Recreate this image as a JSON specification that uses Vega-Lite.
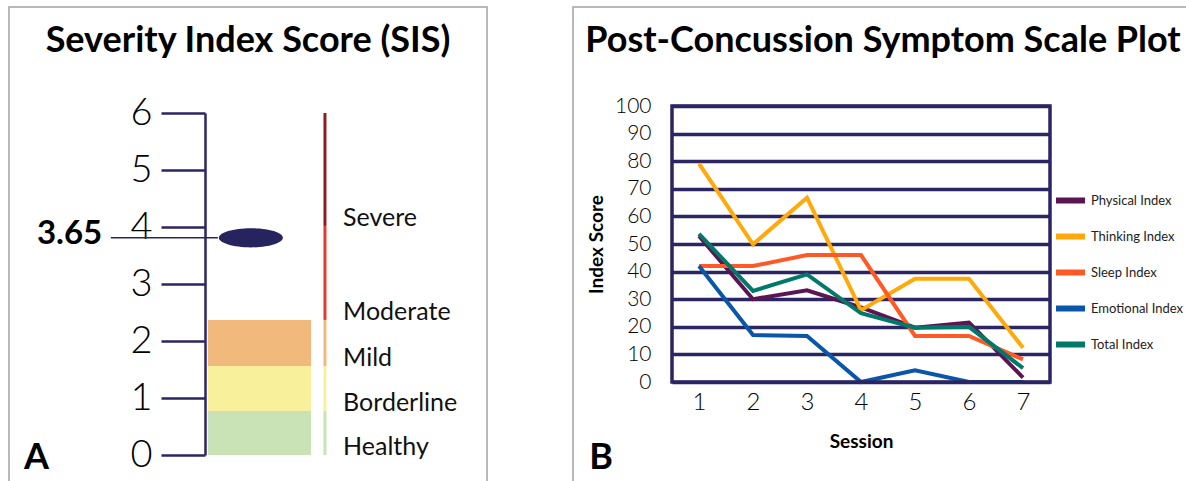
{
  "$schema": "https://vega.github.io/schema/vega-lite/v6.json",
  "padding": {"left": 8, "top": 6, "right": 0, "bottom": 0},
  "spacing": 84,
  "resolve": {"scale": {"color": "independent"}, "legend": {"color": "independent"}},
  "config": {
    "font": "Lato",
    "view": {"stroke": "#a3a3a3", "strokeWidth": 1.5}
  },
  "hconcat": [
    {
      "width": 478,
      "height": 476,
      "title": {"text": "Severity Index Score (SIS)", "font": "Lato", "fontSize": 36, "fontWeight": "bold", "color": "#000000", "anchor": "middle", "frame": "group", "offset": -81, "baseline": "alphabetic"},
      "data": {"values": [
        {"level": "Healthy", "lo": 0, "hi": 0.77},
        {"level": "Borderline", "lo": 0.77, "hi": 1.56},
        {"level": "Mild", "lo": 1.56, "hi": 2.37},
        {"level": "Moderate", "lo": 2.37, "hi": 4.02},
        {"level": "Severe", "lo": 4.02, "hi": 6}
      ]},
      "layer": [
        {
          "transform": [{"filter": "datum.hi < 3"}],
          "mark": {"type": "rect"},
          "encoding": {
            "x": {"datum": 41.6, "type": "quantitative", "scale": {"domain": [0, 100], "range": [0, 478], "nice": false, "zero": false}, "axis": null},
            "x2": {"datum": 63.2},
            "y": {"field": "lo", "type": "quantitative",
              "scale": {"domain": [0, 6], "range": [448, 106], "nice": false, "zero": false},
              "axis": {"orient": "left", "offset": -196, "values": [0, 1, 2, 3, 4, 5, 6], "format": "d", "title": null, "grid": false,
                "domainColor": "#2b2563", "domainWidth": 2.5, "tickColor": "#2b2563", "tickWidth": 2.5, "tickSize": 44,
                "labelFont": "Lato", "labelFontSize": 38, "labelFontWeight": 300, "labelColor": "#000000", "labelPadding": 9}},
            "y2": {"field": "hi"},
            "color": {"field": "level", "type": "nominal",
              "scale": {"domain": ["Healthy", "Borderline", "Mild", "Moderate", "Severe"], "range": ["#c9e3b6", "#f8f09a", "#f2b97c", "#e8372b", "#8c1c22"]},
              "legend": null}
          }
        },
        {
          "mark": {"type": "rule", "strokeWidth": 3},
          "encoding": {
            "x": {"datum": 66.1, "type": "quantitative"},
            "y": {"field": "lo", "type": "quantitative"},
            "y2": {"field": "hi"},
            "color": {"field": "level", "type": "nominal", "legend": null}
          }
        },
        {
          "mark": {"type": "text", "align": "left", "baseline": "alphabetic", "fontSize": 25, "font": "Lato", "color": "#111111"},
          "encoding": {
            "x": {"datum": 69.9, "type": "quantitative"},
            "y": {"field": "lo", "type": "quantitative"},
            "text": {"field": "level"}
          }
        },
        {
          "data": {"values": [{"score_label": "3.65", "score": 3.81}]},
          "layer": [
            {
              "mark": {"type": "rule", "strokeWidth": 1.5, "color": "#2b2563"},
              "encoding": {
                "x": {"datum": 21.3, "type": "quantitative"},
                "x2": {"datum": 43.7},
                "y": {"field": "score", "type": "quantitative"}
              }
            },
            {
              "mark": {"type": "point", "shape": "M-1,0A1,0.3,0,1,0,1,0A1,0.3,0,1,0,-1,0Z", "size": 4096, "filled": true, "color": "#27235e", "opacity": 1},
              "encoding": {
                "x": {"datum": 50.6, "type": "quantitative"},
                "y": {"field": "score", "type": "quantitative"}
              }
            },
            {
              "mark": {"type": "text", "align": "right", "baseline": "middle", "fontSize": 33, "fontWeight": "bold", "font": "Lato", "color": "#000000", "dy": -4},
              "encoding": {
                "x": {"datum": 19.5, "type": "quantitative"},
                "y": {"field": "score", "type": "quantitative"},
                "text": {"field": "score_label"}
              }
            }
          ]
        },
        {
          "data": {"values": [{"panel": "A"}]},
          "mark": {"type": "text", "align": "center", "baseline": "alphabetic", "fontSize": 36, "fontWeight": "bold", "font": "Lato", "color": "#000000"},
          "encoding": {
            "x": {"datum": 5.75, "type": "quantitative"},
            "y": {"datum": -0.246, "type": "quantitative"},
            "text": {"field": "panel"}
          }
        }
      ]
    },
    {
      "width": 620,
      "height": 476,
      "title": {"text": "Post-Concussion Symptom Scale Plot", "font": "Lato", "fontSize": 36, "fontWeight": "bold", "color": "#000000", "anchor": "middle", "frame": "group", "offset": -81, "baseline": "alphabetic"},
      "layer": [
        {
          "data": {"values": [
            {"series": "Physical Index", "session": 1, "value": 52.9},
            {"series": "Physical Index", "session": 2, "value": 30},
            {"series": "Physical Index", "session": 3, "value": 33.2},
            {"series": "Physical Index", "session": 4, "value": 27},
            {"series": "Physical Index", "session": 5, "value": 19.7},
            {"series": "Physical Index", "session": 6, "value": 21.5},
            {"series": "Physical Index", "session": 7, "value": 1.6},
            {"series": "Thinking Index", "session": 1, "value": 79.1},
            {"series": "Thinking Index", "session": 2, "value": 49.9},
            {"series": "Thinking Index", "session": 3, "value": 66.8},
            {"series": "Thinking Index", "session": 4, "value": 26},
            {"series": "Thinking Index", "session": 5, "value": 37.4},
            {"series": "Thinking Index", "session": 6, "value": 37.4},
            {"series": "Thinking Index", "session": 7, "value": 12.4},
            {"series": "Sleep Index", "session": 1, "value": 42},
            {"series": "Sleep Index", "session": 2, "value": 42},
            {"series": "Sleep Index", "session": 3, "value": 46},
            {"series": "Sleep Index", "session": 4, "value": 46},
            {"series": "Sleep Index", "session": 5, "value": 16.7},
            {"series": "Sleep Index", "session": 6, "value": 16.7},
            {"series": "Sleep Index", "session": 7, "value": 8.2},
            {"series": "Emotional Index", "session": 1, "value": 42},
            {"series": "Emotional Index", "session": 2, "value": 17},
            {"series": "Emotional Index", "session": 3, "value": 16.7},
            {"series": "Emotional Index", "session": 4, "value": 0},
            {"series": "Emotional Index", "session": 5, "value": 4.2},
            {"series": "Emotional Index", "session": 6, "value": 0},
            {"series": "Emotional Index", "session": 7, "value": 0},
            {"series": "Total Index", "session": 1, "value": 53.7},
            {"series": "Total Index", "session": 2, "value": 33},
            {"series": "Total Index", "session": 3, "value": 39},
            {"series": "Total Index", "session": 4, "value": 24.9},
            {"series": "Total Index", "session": 5, "value": 19.7},
            {"series": "Total Index", "session": 6, "value": 20},
            {"series": "Total Index", "session": 7, "value": 5}
          ]},
          "mark": {"type": "line", "strokeWidth": 4},
          "encoding": {
            "x": {"field": "session", "type": "quantitative",
              "scale": {"domain": [0.5, 7.5], "range": [99, 477], "nice": false, "zero": false},
              "axis": {"orient": "bottom", "offset": -101, "values": [1, 2, 3, 4, 5, 6, 7], "format": "d",
                "title": "Session", "titleFont": "Lato", "titleFontSize": 19, "titleFontWeight": "bold", "titleColor": "#000000", "titlePadding": 18,
                "labelFont": "Lato", "labelFontSize": 24, "labelFontWeight": 300, "labelColor": "#000000", "labelPadding": 8,
                "ticks": false, "tickSize": 0, "domain": false, "grid": false}},
            "y": {"field": "value", "type": "quantitative",
              "scale": {"domain": [0, 100], "range": [375, 99], "nice": false, "zero": false},
              "axis": {"orient": "left", "offset": -99, "values": [0, 10, 20, 30, 40, 50, 60, 70, 80, 90, 100],
                "title": "Index Score", "titleFont": "Lato", "titleFontSize": 19, "titleFontWeight": "bold", "titleColor": "#000000", "titlePadding": 8,
                "labelFont": "Lato", "labelFontSize": 21, "labelFontWeight": 300, "labelColor": "#000000", "labelPadding": 21,
                "ticks": false, "tickSize": 0, "domain": false,
                "grid": true, "gridColor": "#2b2563", "gridWidth": 3.5, "gridOpacity": 1}},
            "color": {"field": "series", "type": "nominal",
              "scale": {"domain": ["Physical Index", "Thinking Index", "Sleep Index", "Emotional Index", "Total Index"],
                "range": ["#5c1553", "#ffaa0a", "#ff5a26", "#0a56a8", "#00786a"]},
              "legend": {"orient": "none", "legendX": 480, "legendY": 176, "title": null, "padding": 0,
                "symbolType": "stroke", "symbolStrokeWidth": 6, "symbolSize": 841,
                "labelFont": "Lato", "labelFontSize": 13, "labelColor": "#222222", "labelOffset": 3, "rowPadding": 6}}
          }
        },
        {
          "data": {"values": [{"frame": "plot"}]},
          "mark": {"type": "rect", "fill": null, "stroke": "#2b2563", "strokeWidth": 3.5},
          "encoding": {
            "x": {"datum": 0.5, "type": "quantitative"},
            "x2": {"datum": 7.5},
            "y": {"datum": 0, "type": "quantitative"},
            "y2": {"datum": 100}
          }
        },
        {
          "data": {"values": [{"panel": "B"}]},
          "mark": {"type": "text", "align": "center", "baseline": "alphabetic", "fontSize": 36, "fontWeight": "bold", "font": "Lato", "color": "#000000"},
          "encoding": {
            "x": {"datum": -0.815, "type": "quantitative"},
            "y": {"datum": -31.5, "type": "quantitative"},
            "text": {"field": "panel"}
          }
        }
      ]
    }
  ]
}
